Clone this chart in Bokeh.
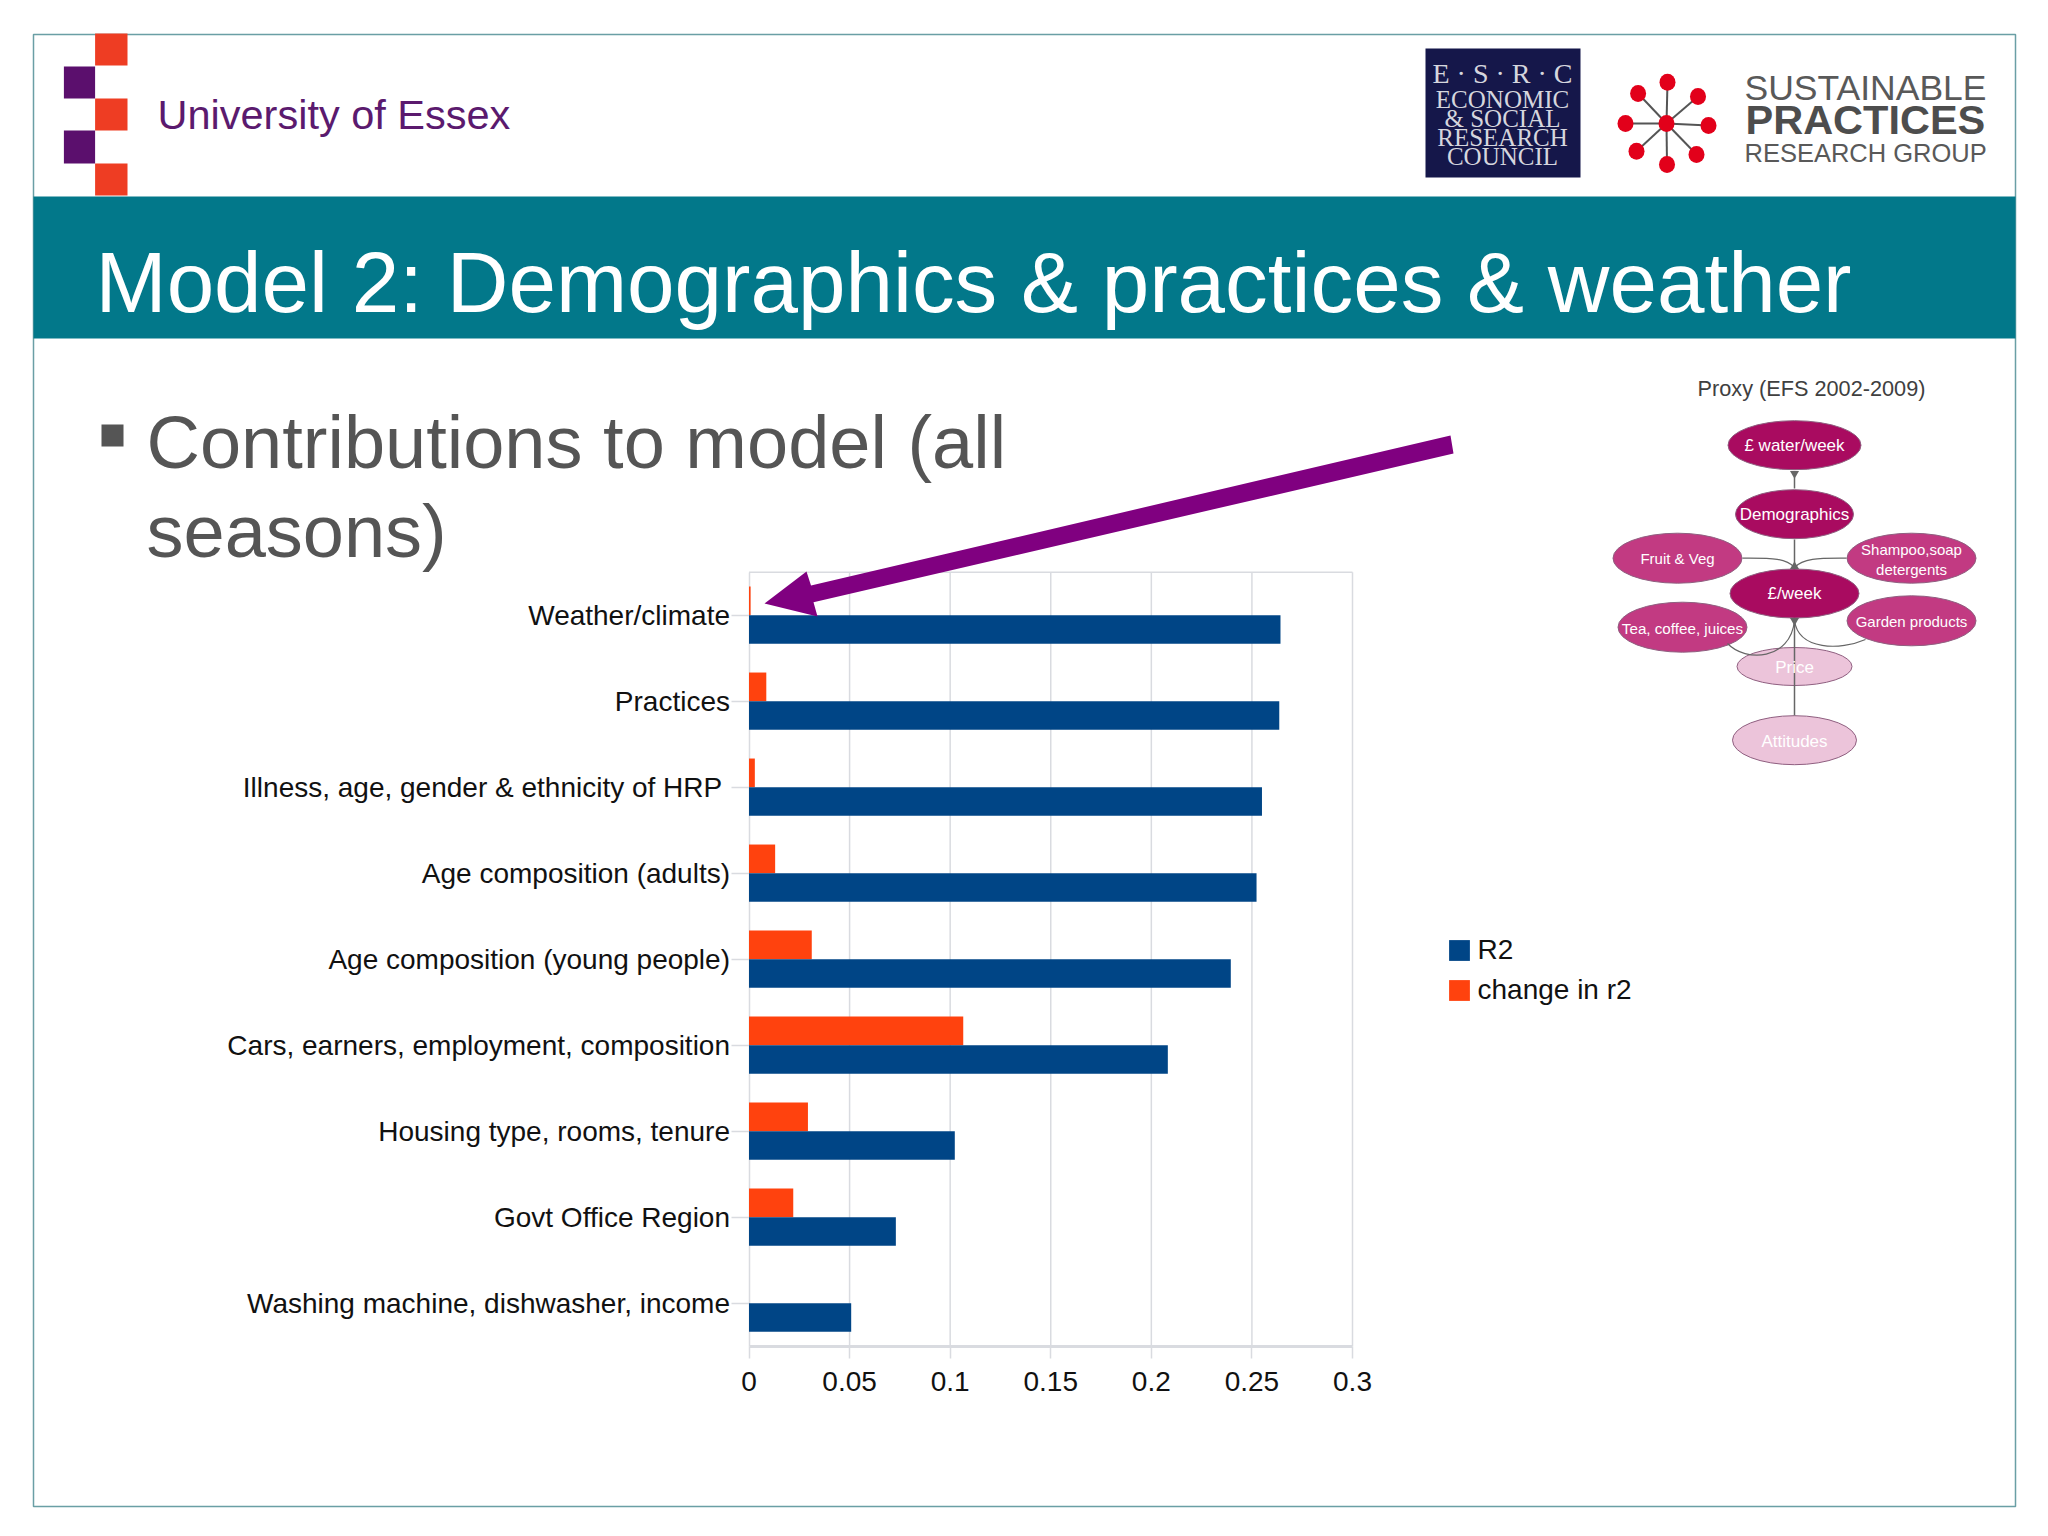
from bokeh.core.properties import value
from bokeh.embed import file_html
from bokeh.resources import INLINE
from bokeh.plotting import figure
from bokeh.models import (Range1d, LinearAxis, FixedTicker, Legend, LegendItem,
                          ColumnDataSource)

# ---- chart data ----
categories = ["Weather/climate", "Practices", "Illness, age, gender & ethnicity of HRP\u00a0",
              "Age composition (adults)", "Age composition (young people)",
              "Cars, earners, employment, composition", "Housing type, rooms, tenure",
              "Govt Office Region", "Washing machine, dishwasher, income"]
r2_values = [0.2642, 0.2636, 0.255, 0.2523, 0.2395, 0.2082, 0.1023, 0.073, 0.0508]
change_values = [0.0008, 0.0086, 0.0029, 0.013, 0.0312, 0.1065, 0.0293, 0.022, 0.0]
x_tick_values = [0, 0.05, 0.1, 0.15, 0.2, 0.25, 0.3]
x_tick_labels = ["0", "0.05", "0.1", "0.15", "0.2", "0.25", "0.3"]
series_names = ["R2", "change in r2"]

title_text = "Model 2: Demographics & practices & weather"
bullet_lines = ["Contributions to model (all", "seasons)"]

# ---- layout of the page (px from the figure's corner) ----
W, H = 2040, 1528
L, T = 0, 0
PX0, PX1 = 748.5, 1352.0      # x pixels of 0 and 0.3
PY0, BAND = 614.7, 86.0       # y pixel of first category, band height
FONT = "Liberation Sans"
BLUE, ORANGE = "#004586", "#ff420e"
GRID = "#d9dbe0"

p = figure(width=W, height=H, output_backend="svg", toolbar_location=None,
           x_range=Range1d(L, L + W), y_range=Range1d(T + H, T),
           x_axis_type=None, y_axis_type=None, min_border=0,
           outline_line_color=None, background_fill_color="white", border_fill_color="white")
p.xgrid.visible = False
p.ygrid.visible = False

xs = (PX1 - PX0) / 0.3
p.extra_x_ranges["chart_x"] = Range1d((L - PX0) / xs, (L + W - PX0) / xs)
p.extra_y_ranges["chart_y"] = Range1d((T + H - PY0) / BAND, (T - PY0) / BAND)


def txt(x, y, s, size, color, align="center", weight="normal", font=FONT, level="glyph"):
    r = p.text([x], [y], text=[s], text_font=value(font), text_font_size=value(f"{size}px"),
               text_color=color, text_align=align, text_baseline="middle", text_font_style=weight)
    r.level = level
    return r


# ---- slide frame and banner ----
p.quad(left=[33], right=[2015], top=[34], bottom=[1506], fill_color="white",
       line_color="#6a9fa5", line_width=1.5, level="image")
p.quad(left=[33], right=[2015], top=[196], bottom=[338], fill_color="#02788a", line_color=None, level="image")

# ---- Essex logo ----
p.quad(left=[94.6] * 3, right=[127] * 3, top=[33, 98, 163], bottom=[65, 130, 195],
       fill_color="#ee3d23", line_color=None)
p.quad(left=[63.4] * 2, right=[94.6] * 2, top=[66, 130], bottom=[98, 163],
       fill_color="#5b0f6d", line_color=None)
txt(157, 114, "University of Essex", 41.5, "#5b1a6e", align="left")

# ---- ESRC logo ----
p.quad(left=[1425], right=[1580], top=[48], bottom=[177], fill_color="#15174a", line_color=None)
for yy, s, sz in [(73, "E · S · R · C", 28), (99, "ECONOMIC", 25), (118, "& SOCIAL", 25),
                  (137, "RESEARCH", 25), (156, "COUNCIL", 25)]:
    txt(1502, yy, s, sz, "#d5d6de", font="Liberation Serif")

# ---- network icon ----
hub = (1666, 123)
nodes_x = [1667, 1666.5, 1625, 1708, 1637.6, 1697.5, 1636, 1696]
nodes_y = [81.7, 164, 123, 125, 93, 96, 150.7, 154]
p.segment(x0=[hub[0]] * 8, y0=[hub[1]] * 8, x1=nodes_x, y1=nodes_y, line_color="#555555", line_width=2)
p.ellipse(x=nodes_x + [hub[0]], y=nodes_y + [hub[1]], width=[16] * 9, height=[17] * 9,
          fill_color="#e2001a", line_color=None)
txt(1744, 87, "SUSTAINABLE", 35.5, "#595959", align="left")
txt(1745, 119, "PRACTICES", 41.5, "#4d4d4d", align="left", weight="bold")
txt(1744, 152, "RESEARCH GROUP", 25.5, "#595959", align="left")

# ---- title and bullet ----
txt(95, 282, title_text, 85.4, "white", align="left")
p.quad(left=[101], right=[123], top=[424], bottom=[446], fill_color="#555555", line_color=None)
txt(146, 442, bullet_lines[0], 74, "#555555", align="left")
txt(146, 531, bullet_lines[1], 74, "#555555", align="left")

# ---- proxy diagram ----
txt(1811, 388, "Proxy (EFS 2002-2009)", 21.7, "#404040")
dark, mid, pale = "#a90b60", "#c23a82", "#ecc4da"
e_x = [1794, 1794, 1677, 1911, 1794, 1682, 1911, 1794, 1794]
e_y = [444.7, 513.7, 557.7, 557.7, 593, 626.7, 620.3, 666, 739.7]
e_w = [133, 118, 129, 129, 129, 129, 129, 115, 124]
e_h = [49, 49, 50, 50, 49, 50, 50, 38, 49]
e_c = [dark, dark, mid, mid, dark, mid, mid, pale, pale]
p.ellipse(x=e_x, y=e_y, width=e_w, height=e_h, fill_color=e_c, line_color="#8f5f80", line_width=1)
EDGE = "#666666"
p.segment(x0=[1794, 1794, 1794], y0=[488, 539, 715], x1=[1794, 1794, 1794], y1=[474, 568, 622],
          line_color=EDGE, line_width=1.5)
p.bezier(x0=[1742, 1846, 1727, 1865], y0=[557.7, 557.7, 643, 639],
         x1=[1794, 1794, 1794, 1794], y1=[567, 567, 620, 620],
         cx0=[1770, 1820, 1745, 1840], cy0=[557.7, 557.7, 662, 650],
         cx1=[1785, 1803, 1790, 1798], cy1=[557, 557, 660, 650],
         line_color=EDGE, line_width=1.2)
p.scatter(x=[1794, 1794, 1794], y=[473, 566, 620], marker="triangle", size=9,
          angle=[3.14159, 0, 3.14159], fill_color=EDGE, line_color=None)
for x_, y_, s, sz in [(1794, 445, "£ water/week", 17), (1794, 514, "Demographics", 17),
                      (1677, 558, "Fruit & Veg", 15), (1911, 549, "Shampoo,soap", 15),
                      (1911, 569, "detergents", 15), (1794, 593, "£/week", 17),
                      (1682, 628, "Tea, coffee, juices", 15.2), (1911, 621, "Garden products", 15),
                      (1794, 667, "Price", 17), (1794, 741, "Attitudes", 17)]:
    txt(x_, y_, s, sz, "white")

# ---- bar chart, all through the chart ranges ----
CHART = dict(x_range_name="chart_x", y_range_name="chart_y")
x_axis = LinearAxis(fixed_location=8.5, ticker=FixedTicker(ticks=x_tick_values),
                    major_label_overrides=dict(zip(x_tick_values, x_tick_labels)),
                    axis_line_color=GRID, axis_line_width=3, major_tick_line_color=GRID,
                    major_tick_line_width=1.5, major_tick_in=0, major_tick_out=12,
                    minor_tick_line_color=None, major_label_standoff=14, bounds=(0, 0.3),
                    major_label_text_font=FONT, major_label_text_font_size="28px",
                    major_label_text_color="#111111", level="underlay", **CHART)
y_ticks = list(range(len(categories)))
y_axis = LinearAxis(fixed_location=0, ticker=FixedTicker(ticks=y_ticks),
                    major_label_overrides=dict(zip(y_ticks, categories)),
                    axis_line_color=GRID, axis_line_width=1.5, major_tick_line_color=GRID,
                    major_tick_line_width=1.5, major_tick_in=0, major_tick_out=18,
                    minor_tick_line_color=None, major_label_standoff=1, bounds=(-0.5, 8.5),
                    major_label_text_font=FONT, major_label_text_font_size="28px",
                    major_label_text_color="#111111", level="underlay", **CHART)
p.add_layout(x_axis, "below")
p.add_layout(y_axis, "left")
# grid lines and top edge of the chart area
p.segment(x0=x_tick_values[1:], x1=x_tick_values[1:], y0=[-0.5] * 6, y1=[8.5] * 6,
          line_color=GRID, line_width=1.5, level="underlay", **CHART)
p.segment(x0=[0], x1=[0.3], y0=[-0.5], y1=[-0.5], line_color=GRID, line_width=1.5, level="underlay", **CHART)

source = ColumnDataSource(dict(y=y_ticks, y_top=[i - 1 / 6 for i in y_ticks], y_low=[i + 1 / 6 for i in y_ticks],
                               r2=r2_values, change=change_values))
r_change = p.hbar(y="y_top", right="change", left=0, height=1 / 3, source=source, fill_color=ORANGE,
                  line_color=None, **CHART)
r_r2 = p.hbar(y="y_low", right="r2", left=0, height=1 / 3, source=source, fill_color=BLUE,
              line_color=None, **CHART)

legend = Legend(items=[LegendItem(label=series_names[0], renderers=[r_r2]),
                       LegendItem(label=series_names[1], renderers=[r_change])],
                location=(1445.5 - L, T + H - 1005.5), orientation="vertical",
                label_text_font=FONT, label_text_font_size="28px", label_text_color="#111111",
                glyph_width=26, glyph_height=26, spacing=8, label_standoff=6, padding=0, margin=0,
                border_line_color=None, background_fill_alpha=0)
p.add_layout(legend, "center")

# ---- purple arrow on top ----
p.patch(x=[1450, 810.5, 806, 764, 817, 813, 1453], y=[435, 585, 571, 603, 616, 601.7, 453],
        fill_color="#800080", line_color=None, level="overlay")

open("out.html", "w").write(file_html(p, INLINE))
